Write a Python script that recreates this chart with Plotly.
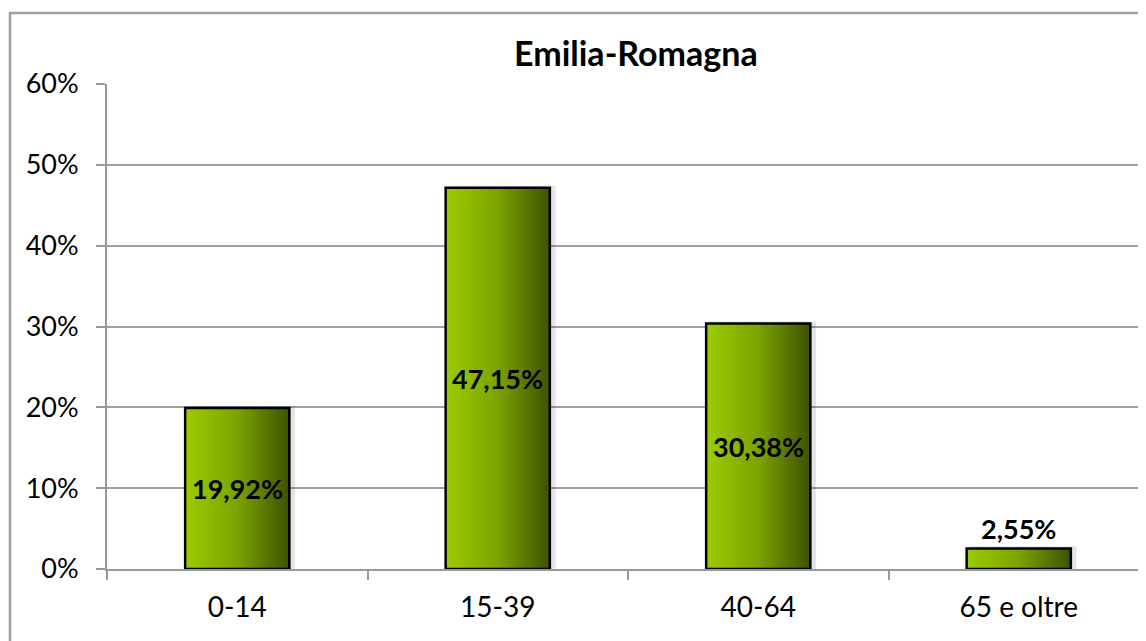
import plotly.graph_objects as go

categories = ["0-14", "15-39", "40-64", "65 e oltre"]
values = [19.92, 47.15, 30.38, 2.55]
value_labels = ["19,92%", "47,15%", "30,38%", "2,55%"]
y_ticks = [0, 10, 20, 30, 40, 50, 60]
title_text = "Emilia-Romagna"

FONT = "Lato"
BAR_HALF = 0.2
GRAD = [[0, "#9ccc00"], [0.5, "#7ba300"], [1, "#3e5200"]]

# page body has an 8px margin: figure origin sits at screen (8, 8)
OFF = 8
W, H = 1146, 641
ML, MT = 107 - OFF, 84 - OFF
PLOT_H = 569 - 84
MB = H - MT - PLOT_H
PLOT_W = W - ML
BAND = 260.5


def px_x(sx):
    return (sx - OFF - ML) / PLOT_W


def px_y(sy):
    return (MT + PLOT_H - (sy - OFF)) / PLOT_H


fig = go.Figure()

for i, (cat, v) in enumerate(zip(categories, values)):
    # soft shadow
    fig.add_trace(go.Scatter(
        x=[i - BAR_HALF + 0.012, i + BAR_HALF + 0.022, i + BAR_HALF + 0.022, i - BAR_HALF + 0.012, i - BAR_HALF + 0.012],
        y=[0, 0, v + 0.25, v + 0.25, 0],
        fill="toself", fillcolor="rgba(0,0,0,0.10)", line=dict(width=0),
        mode="lines", hoverinfo="skip", showlegend=False,
    ))
    fig.add_trace(go.Scatter(
        x=[i - BAR_HALF, i + BAR_HALF, i + BAR_HALF, i - BAR_HALF, i - BAR_HALF],
        y=[0, 0, v, v, 0],
        fill="toself",
        fillgradient=dict(type="horizontal", colorscale=GRAD),
        line=dict(color="black", width=2.5),
        mode="lines", name=cat, showlegend=False,
    ))

# data labels
for i, (v, lab) in enumerate(zip(values, value_labels)):
    inside = v >= 5
    fig.add_annotation(
        x=i, y=(v / 2 if inside else v), text="<b>" + lab + "</b>",
        showarrow=False, xref="x", yref="y",
        yanchor="middle" if inside else "bottom", yshift=0 if inside else 1,
        font=dict(family=FONT, size=27, color="black"),
    )

fig.add_annotation(
    text="<b>" + title_text + "</b>", x=px_x(636), y=px_y(52),
    xref="paper", yref="paper", xanchor="center", yanchor="middle",
    showarrow=False, font=dict(family=FONT, size=34, color="black"))

fig.update_layout(
    width=W, height=H,
    margin=dict(l=ML, r=0, t=MT, b=MB),
    paper_bgcolor="white", plot_bgcolor="white",
    font=dict(family=FONT, color="black"),
    showlegend=False,
)

fig.update_xaxes(
    range=[-0.5, -0.5 + PLOT_W / BAND],
    tickvals=list(range(len(categories))), ticktext=categories,
    ticks="", ticklabelstandoff=12,
    tickfont=dict(family=FONT, size=28, color="black"),
    showgrid=False, zeroline=False,
    showline=True, linecolor="#999999", linewidth=2,
    minor=dict(tickvals=[k - 0.5 for k in range(len(categories))], ticks="outside",
               ticklen=9, tickcolor="#999999", tickwidth=2),
    fixedrange=True,
)
fig.update_yaxes(
    range=[0, 60], tickvals=y_ticks, ticktext=[f"{t}%" for t in y_ticks],
    ticks="outside", ticklen=9, tickcolor="#999999", tickwidth=2,
    ticklabelstandoff=12,
    tickfont=dict(family=FONT, size=27, color="black"),
    showgrid=True, gridcolor="#a0a0a0", gridwidth=2,
    zeroline=False, showline=True, linecolor="#999999", linewidth=2,
    fixedrange=True,
)

# outer chart frame
fig.add_shape(type="rect", xref="paper", yref="paper",
              x0=px_x(10), x1=1.2, y0=-0.3, y1=px_y(13),
              line=dict(color="#a0a0a0", width=2.5), fillcolor="rgba(0,0,0,0)", layer="above")

fig.write_html("out.html")
